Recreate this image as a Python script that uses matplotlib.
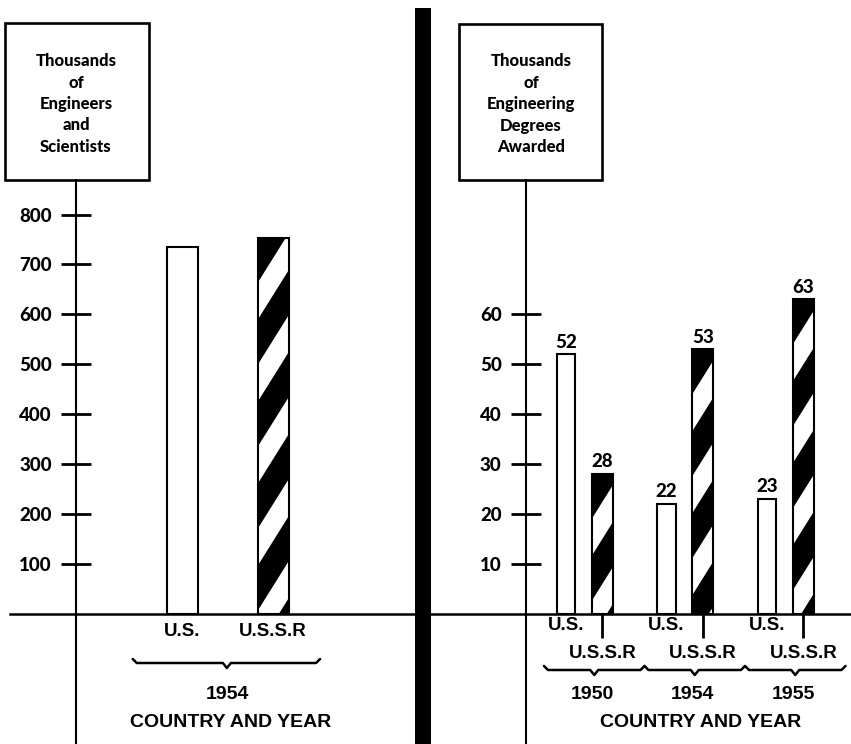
import matplotlib
matplotlib.use("Agg")
import matplotlib.pyplot as plt
from matplotlib.patches import Rectangle, Polygon
from matplotlib.lines import Line2D
from matplotlib.transforms import blended_transform_factory
import numpy as np

# ---------------- data ----------------
left_categories = ["U.S.", "U.S.S.R"]
left_values = [736, 753]            # thousands of engineers and scientists, 1954
left_year = "1954"
left_yticks = [100, 200, 300, 400, 500, 600, 700, 800]
left_box = ["Thousands", "of", "Engineers", "and", "Scientists"]

right_years = ["1950", "1954", "1955"]
right_us = [52, 22, 23]             # thousands of engineering degrees awarded
right_ussr = [28, 53, 63]
right_yticks = [10, 20, 30, 40, 50, 60]
right_box = ["Thousands", "of", "Engineering", "Degrees", "Awarded"]

xlabel_text = "COUNTRY AND YEAR"

# ---------------- figure ----------------
W, H, DPI = 851, 744, 100
plt.rcParams["font.family"] = ["Lato", "DejaVu Sans"]
fig = plt.figure(figsize=(W / DPI, H / DPI), dpi=DPI)
fig.patch.set_facecolor("white")

NUM_FONT = dict(family=["Lato", "DejaVu Sans"], weight="black")
LAB_FONT = dict(family=["Liberation Sans", "DejaVu Sans"], weight="bold")


def fy(p):
    """pixel-from-top -> figure fraction"""
    return 1 - p / H


def style_axes(ax, spine_frac):
    for s in ("top", "right"):
        ax.spines[s].set_visible(False)
    ax.spines["left"].set_position(("axes", spine_frac))
    ax.spines["left"].set_linewidth(1.5)
    ax.spines["bottom"].set_position(("data", 0))
    ax.spines["bottom"].set_linewidth(1.8)
    ax.patch.set_alpha(0)
    ax.tick_params(axis="y", direction="inout", length=22, width=2,
                   pad=6.5, labelsize=13.5)


def stripe(ax, bar, period=82, black=45, slope=1.6):
    (px0, py0) = ax.transData.transform((bar.get_x(), bar.get_y()))
    (px1, py1) = ax.transData.transform((bar.get_x() + bar.get_width(),
                                         bar.get_y() + bar.get_height()))
    pw = px1 - px0
    inv = ax.transData.inverted()
    yb = py1 - black + period
    while yb + slope * pw + black > py0:
        pts = [(px0, yb), (px1, yb + slope * pw),
               (px1, yb + slope * pw + black), (px0, yb + black)]
        poly = Polygon(inv.transform(pts), closed=True, fc="black",
                       ec="none", zorder=2.5)
        ax.add_patch(poly)
        poly.set_clip_path(bar)
        yb -= period


def brace(ax, xa, xb, xm, y, px_per_unit, lw=1.8):
    d = 4 / px_per_unit
    trans = blended_transform_factory(ax.transData, fig.transFigure)
    xs = [xa, xa + d, xm - d, xm, xm + d, xb - d, xb]
    ys = [y - 4, y, y, y + 5, y, y, y - 4]
    fig.add_artist(Line2D(xs, [fy(v) for v in ys], transform=trans,
                          color="black", lw=lw, solid_joinstyle="round",
                          solid_capstyle="round"))


def box(cx, x0, x1, y0, y1, lines):
    fig.add_artist(Rectangle((x0 / W, fy(y1)), (x1 - x0) / W, (y1 - y0) / H,
                             transform=fig.transFigure, fill=False,
                             lw=1.9, ec="black"))
    for i, t in enumerate(lines):
        fig.text(cx / W, fy(66 + i * 21.5), t, ha="center", va="baseline",
                 fontsize=12, **NUM_FONT)


# ---------------- left panel ----------------
LPX = 90.5          # pixels per category unit
LPY = 0.4986        # pixels per value unit
axL = fig.add_axes([10 / W, 0, 405 / W, 564 / H])
axL.set_xlim(-(182.5 - 10) / LPX, -(182.5 - 10) / LPX + 405 / LPX)
axL.set_ylim(-130.5 / LPY, (564 - 130.5) / LPY)
style_axes(axL, 66 / 405)
axL.set_yticks(left_yticks)
axL.set_yticklabels([str(v) for v in left_yticks], **NUM_FONT)
xl = np.arange(len(left_categories))
axL.set_xticks(xl)
axL.set_xticklabels(left_categories, fontsize=13.5, **LAB_FONT)
axL.tick_params(axis="x", length=0, pad=6.5)

barsL = axL.bar(xl, left_values, width=31 / LPX, color="white",
                edgecolor="none", zorder=2)
stripe(axL, barsL[1])
axL.bar(xl, left_values, width=31 / LPX, fill=False, edgecolor="black",
        lw=1.5, zorder=3)

brace(axL, -0.55, 1.52, 0.49, 663, LPX)
tL = blended_transform_factory(axL.transData, fig.transFigure)
axL.text(0.5, fy(694.5), left_year, transform=tL, ha="center", va="center",
         fontsize=14, **LAB_FONT)
axL.text(0.53, fy(722.5), xlabel_text, transform=tL, ha="center",
         va="center", fontsize=14, **LAB_FONT)

# ---------------- right panel ----------------
RPX = 100.5
RPY = 4.986
axR = fig.add_axes([431 / W, 0, 420 / W, 564 / H])
axR.set_xlim(-(584.2 - 431) / RPX, -(584.2 - 431) / RPX + 420 / RPX)
axR.set_ylim(-130.5 / RPY, (564 - 130.5) / RPY)
style_axes(axR, 95 / 420)
axR.set_yticks(right_yticks)
axR.set_yticklabels([str(v) for v in right_yticks], **NUM_FONT)

g = np.arange(len(right_years))
off = 0.18
axR.set_xticks(g + off)
axR.set_xticklabels(["U.S.S.R"] * len(g), fontsize=13.5, **LAB_FONT)
axR.set_xticks(g - off, minor=True)
axR.set_xticklabels(["U.S."] * len(g), minor=True, fontsize=13.5, **LAB_FONT)
axR.tick_params(axis="x", which="major", direction="out", length=17,
                width=2, pad=5.5)
axR.tick_params(axis="x", which="minor", length=0, pad=2.5)

bus = axR.bar(g - off, right_us, width=0.185, color="white",
              edgecolor="black", lw=1.5, zorder=3)
bsu = axR.bar(g + off, right_ussr, width=0.21, color="white",
              edgecolor="none", zorder=2)
for b in bsu:
    stripe(axR, b)
axR.bar(g + off, right_ussr, width=0.21, fill=False, edgecolor="black",
        lw=1.5, zorder=3)

for xs, vals in ((g - off, right_us), (g + off, right_ussr)):
    for x, v in zip(xs, vals):
        axR.annotate(str(v), (x, v), xytext=(0, 2.5),
                     textcoords="offset points", ha="center", va="bottom",
                     fontsize=13.5, **NUM_FONT)

tR = blended_transform_factory(axR.transData, fig.transFigure)
for gi, yr in zip(g, right_years):
    brace(axR, gi - 0.40, gi + 0.60, gi + 0.10, 670, RPX)
    axR.text(gi + 0.08, fy(694.5), yr, transform=tR, ha="center",
             va="center", fontsize=14, **LAB_FONT)
axR.text(g.mean() + 0.16, fy(722.5), xlabel_text, transform=tR,
         ha="center", va="center", fontsize=14, **LAB_FONT)

# ---------------- boxes and divider ----------------
box(76, 5, 149, 23, 180, left_box)
box(531, 459, 602, 24, 180, right_box)
fig.add_artist(Rectangle((415 / W, 0), 16 / W, (744 - 8) / H,
                         transform=fig.transFigure, color="black", lw=0))

fig.savefig("out.png", dpi=DPI, facecolor="white")
